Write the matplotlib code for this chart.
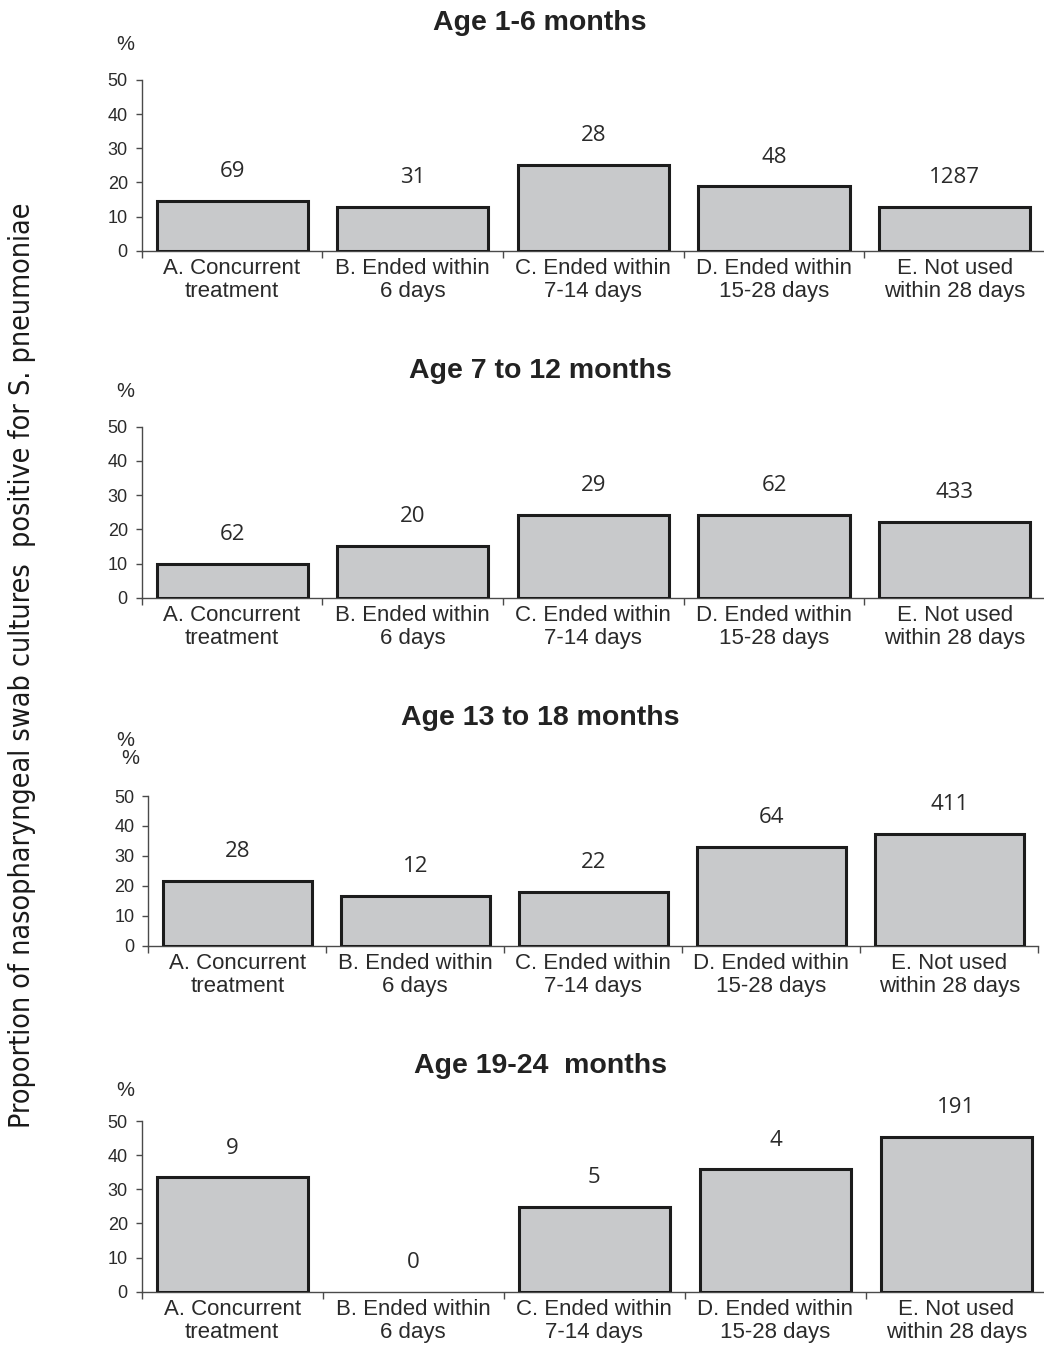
import matplotlib
matplotlib.use("Agg")
import matplotlib.pyplot as plt
import numpy as np
from matplotlib.ticker import FixedLocator

categories = ["A. Concurrent\ntreatment", "B. Ended within\n6 days",
              "C. Ended within\n7-14 days", "D. Ended within\n15-28 days",
              "E. Not used\nwithin 28 days"]
age_groups = ["Age 1-6 months", "Age 7 to 12 months",
              "Age 13 to 18 months", "Age 19-24  months"]

# percent positive per treatment group
pct_1_6 = [14.6, 12.9, 25.1, 18.9, 12.8]
pct_7_12 = [10.0, 15.2, 24.3, 24.3, 22.2]
pct_13_18 = [21.6, 16.7, 18.0, 33.0, 37.3]
pct_19_24 = [33.5, 0.0, 24.8, 35.8, 45.3]

# number of swabs in each group
n_1_6 = [69, 31, 28, 48, 1287]
n_7_12 = [62, 20, 29, 62, 433]
n_13_18 = [28, 12, 22, 64, 411]
n_19_24 = [9, 0, 5, 4, 191]

y_ticks = [0, 10, 20, 30, 40, 50]

W, H = 1044, 1349
fig = plt.figure(figsize=(W / 100, H / 100), dpi=100)

SANS = ["Liberation Sans", "DejaVu Sans"]
NUM = ["Open Sans", "DejaVu Sans"]
BAR_FILL = "#c8c9cb"
BAR_EDGE = "#1c1c1c"
AXIS_COL = "#4a4a4a"
TXT = "#2a2a2a"

# (left, right, top, bottom) of each plot area in pixels, title y, percent signs
panels = [
    (141.7, 1045.0, 80.0, 250.7, 22, [(125, 44)]),
    (141.7, 1045.0, 426.7, 597.7, 370, [(125, 392)]),
    (148.3, 1038.3, 796.0, 945.7, 717, [(125, 740), (130, 759)]),
    (141.7, 1047.0, 1121.0, 1291.7, 1065, [(125, 1091)]),
]
pcts = [pct_1_6, pct_7_12, pct_13_18, pct_19_24]
counts = [n_1_6, n_7_12, n_13_18, n_19_24]


def fx(x):
    return x / W


def fy(y):
    return 1 - y / H


for (left, right, top, bottom, title_y, pct_marks), title, vals, ns in zip(
        panels, age_groups, pcts, counts):
    ax = fig.add_axes([fx(left), fy(bottom), (right - left) / W, (bottom - top) / H])
    x = np.arange(len(categories))
    # an empty group gets no outline, otherwise a flat black line sits on the axis
    widths = [0 if v == 0 else 2.2 for v in vals]
    ax.bar(x, vals, width=0.836, color=BAR_FILL, edgecolor=BAR_EDGE,
           linewidth=widths, zorder=3)
    for xi, v, n in zip(x, vals, ns):
        ax.annotate(str(n), (xi, v), xytext=(0, 21), textcoords="offset points",
                    ha="center", va="center", fontsize=16, family=NUM, color=TXT)

    ax.set_xlim(-0.5, len(categories) - 0.5)
    ax.set_ylim(0, 50)
    ax.set_yticks(y_ticks)
    ax.set_yticklabels([str(t) for t in y_ticks], family=SANS, fontsize=13,
                       color=TXT)
    ax.tick_params(axis="y", length=4, width=1, color=AXIS_COL, pad=6)

    ax.set_xticks(x)
    ax.set_xticklabels(categories, family=SANS, fontsize=16, color=TXT,
                       linespacing=1.12)
    ax.tick_params(axis="x", which="major", length=0, pad=5)
    ax.xaxis.set_minor_locator(FixedLocator(np.arange(-0.5, len(categories), 1.0)))
    ax.tick_params(axis="x", which="minor", length=5, width=1, color=AXIS_COL)

    for side in ("top", "right"):
        ax.spines[side].set_visible(False)
    for side in ("left", "bottom"):
        ax.spines[side].set_color(AXIS_COL)
        ax.spines[side].set_linewidth(1)

    fig.text(fx(540), fy(title_y + 1), title, ha="center", va="center",
             fontsize=20.5, fontweight="bold", family=SANS, color="#222222")
    for px, py in pct_marks:
        fig.text(fx(px), fy(py), "%", ha="center", va="center", fontsize=14.5,
                 family=SANS, color=TXT)

fig.text(fx(22), fy(665),
         "Proportion of nasopharyngeal swab cultures  positive for S. pneumoniae",
         rotation=90, ha="center", va="center", fontsize=20.5,
         family="DejaVu Sans", fontstretch="condensed", color="#1a1a1a")

fig.savefig("out.png", dpi=100)
